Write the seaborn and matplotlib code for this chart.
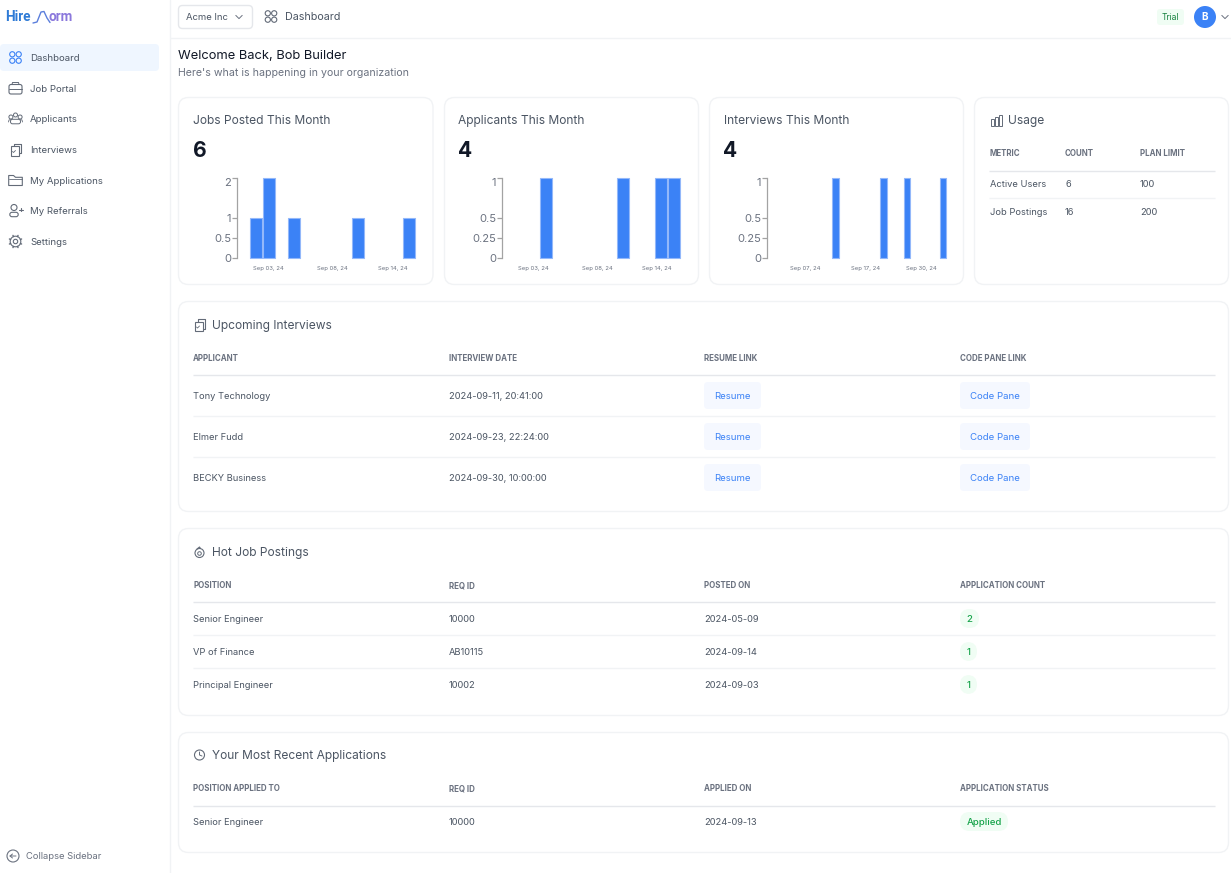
import numpy as np
import matplotlib
matplotlib.use("Agg")
import matplotlib.pyplot as plt
import seaborn as sns
from matplotlib.patches import FancyBboxPatch, Circle, Rectangle, Polygon

# ---------- data ----------
jobs_days = ["Sep 02", "Sep 03", "Sep 04", "Sep 05", "Sep 06", "Sep 07", "Sep 08", "Sep 09", "Sep 10", "Sep 11", "Sep 12", "Sep 13", "Sep 14"]
jobs_counts = [1, 2, 0, 1, 0, 0, 0, 0, 1, 0, 0, 0, 1]
applicant_days = jobs_days
applicant_counts = [0, 0, 1, 0, 0, 0, 0, 0, 1, 0, 0, 1, 1]
interview_days = [f"Sep {d:02d}" for d in range(1, 31)]
interview_counts = [0, 0, 0, 0, 0, 0, 0, 0, 0, 0, 0, 1, 0, 0, 0, 0, 0, 0, 0, 1, 0, 0, 0, 1, 0, 0, 0, 0, 0, 1]
jobs_ticks = [0, 0.5, 1, 2]
jobs_ticklabels = ["0", "0.5", "1", "2"]
unit_ticks = [0, 0.25, 0.5, 1]
unit_ticklabels = ["0", "0.25", "0.5", "1"]
jobs_xlabels = ["Sep 03, 24", "Sep 08, 24", "Sep 14, 24"]
applicant_xlabels = ["Sep 03, 24", "Sep 08, 24", "Sep 14, 24"]
interview_xlabels = ["Sep 07, 24", "Sep 17, 24", "Sep 30, 24"]
nav_items = ["Dashboard", "Job Portal", "Applicants", "Interviews", "My Applications", "My Referrals", "Settings"]
card_titles = ["Jobs Posted This Month", "Applicants This Month", "Interviews This Month"]
card_totals = ["6", "4", "4"]
usage_headers = ["METRIC", "COUNT", "PLAN LIMIT"]
usage_rows = [["Active Users", "6", "100"], ["Job Postings", "16", "200"]]
interview_headers = ["APPLICANT", "INTERVIEW DATE", "RESUME LINK", "CODE PANE LINK"]
interview_rows = [["Tony Technology", "2024-09-11, 20:41:00"], ["Elmer Fudd", "2024-09-23, 22:24:00"], ["BECKY Business", "2024-09-30, 10:00:00"]]
hot_headers = ["POSITION", "REQ ID", "POSTED ON", "APPLICATION COUNT"]
hot_rows = [["Senior Engineer", "10000", "2024-05-09", "2"], ["VP of Finance", "AB10115", "2024-09-14", "1"], ["Principal Engineer", "10002", "2024-09-03", "1"]]
recent_headers = ["POSITION APPLIED TO", "REQ ID", "APPLIED ON", "APPLICATION STATUS"]
recent_rows = [["Senior Engineer", "10000", "2024-09-13", "Applied"]]

# ---------- style ----------
W, H = 1231, 873
sns.set_theme(style="white")
plt.rcParams["font.family"] = ["Inter", "DejaVu Sans"]
BLUE = "#3b82f6"; DARK = "#111827"; TXT = "#4b5563"; MUTED = "#6b7280"; LINE = "#e5e7eb"; SOFT = "#f1f3f5"; ICON = "#636b78"
BODY = 9.3; TITLE = 12.0; HEAD = 7.95

fig = plt.figure(figsize=(W / 100, H / 100), dpi=100, facecolor="white")
bg = fig.add_axes([0, 0, 1, 1])
bg.set_xlim(0, W); bg.set_ylim(H, 0); bg.axis("off")

def T(x, y, s, px=BODY, color=TXT, weight="normal", ha="left", family=None):
    kw = {"family": family} if family else {}
    bg.text(x, y + 0.9, s, fontsize=px * 0.72, color=color, weight=weight, ha=ha, va="center", **kw)

def box(x0, y0, x1, y1, r=8, fc="white", ec=SOFT, lw=1.0):
    bg.add_patch(FancyBboxPatch((x0 + r, y0 + r), x1 - x0 - 2 * r, y1 - y0 - 2 * r,
                                boxstyle=f"round,pad={r},rounding_size={r}", fc=fc, ec=ec, lw=lw))

def hline(x0, x1, y, c=SOFT, lw=1.0):
    bg.plot([x0, x1], [y, y], color=c, lw=lw, solid_capstyle="butt")

def L(xs, ys, c=ICON, lw=0.7):
    bg.plot(xs, ys, color=c, lw=lw, solid_capstyle="round")

def chev(x, y, c=MUTED, s=3.2):
    L([x - s, x, x + s], [y - 1.6, y + 1.6, y - 1.6], c, 0.7)

def ic_grid(x, y, c=ICON):
    for dx in (-3.2, 3.2):
        for dy in (-3.2, 3.2):
            bg.add_patch(Circle((x + dx, y + dy), 2.6, fc="none", ec=c, lw=0.8))

def ic_case(x, y):
    box(x - 6.5, y - 4, x + 6.5, y + 5.5, r=2, fc="none", ec=ICON, lw=0.8)
    L([x - 6.5, x + 6.5], [y, y], ICON, 0.7)
    L([x - 3.5, x - 3, x + 3, x + 3.5], [y - 4, y - 6, y - 6, y - 4], ICON, 0.7)

def ic_people(x, y):
    for dx, dy in ((-4.6, -1.5), (4.6, -1.5), (0, -3.5)):
        bg.add_patch(Circle((x + dx, y + dy), 2, fc="none", ec=ICON, lw=0.7))
    bg.add_patch(FancyBboxPatch((x - 4, y + 1.8), 8, 2.5, boxstyle="round,pad=1,rounding_size=2", fc="none", ec=ICON, lw=0.7))
    L([x - 7, x - 6.5, x - 5], [y + 3.5, y + 1.5, y + 1], ICON, 0.6)
    L([x + 7, x + 6.5, x + 5], [y + 3.5, y + 1.5, y + 1], ICON, 0.6)

def ic_clip(x, y):
    bg.add_patch(Rectangle((x - 5, y - 3.5), 8.5, 9.5, fc="white", ec=ICON, lw=0.8))
    L([x - 1.5, x - 1.5, x + 5.5, x + 5.5, x + 3.5], [y - 3.5, y - 6, y - 6, y + 3.5, y + 3.5], ICON, 0.8)
    L([x - 3, x - 2, x], [y + 2, y + 3, y + 1], ICON, 0.6)

def ic_folder(x, y):
    bg.add_patch(Polygon([(x - 6.8, y - 5), (x - 2, y - 5), (x, y - 3.2), (x + 6.8, y - 3.2), (x + 6.8, y + 5), (x - 6.8, y + 5)],
                         closed=True, fc="none", ec=ICON, lw=0.8, joinstyle="round"))
    L([x - 6.8, x + 6.8], [y - 1.2, y - 1.2], ICON, 0.6)

def ic_user(x, y):
    bg.add_patch(Circle((x - 1.5, y - 3), 3, fc="none", ec=ICON, lw=0.8))
    bg.add_patch(FancyBboxPatch((x - 4.5, y + 3), 6, 2, boxstyle="round,pad=1.2,rounding_size=2.2", fc="none", ec=ICON, lw=0.8))
    L([x + 3.5, x + 7], [y - 1, y - 1], ICON, 0.8); L([x + 5.2, x + 5.2], [y - 2.8, y + 0.8], ICON, 0.8)

def ic_gear(x, y):
    bg.add_patch(Circle((x, y), 2.2, fc="none", ec=ICON, lw=0.8))
    bg.add_patch(Circle((x, y), 5.3, fc="none", ec=ICON, lw=0.8))
    for a in np.radians(np.arange(0, 360, 45) + 22.5):
        L([x + 5.3 * np.cos(a), x + 6.6 * np.cos(a)], [y + 5.3 * np.sin(a), y + 6.6 * np.sin(a)], ICON, 1.0)

def ic_bars(x, y):
    for dx, top in ((-5, -1), (-1, -3), (3, -5.5)):
        bg.add_patch(Rectangle((x + dx, y + top), 3, 5.5 - top, fc="none", ec=ICON, lw=0.7))

def ic_flame(x, y):
    bg.add_patch(Circle((x, y + 1), 4.5, fc="none", ec=ICON, lw=0.8))
    bg.add_patch(Circle((x, y + 1.5), 1.8, fc="none", ec=ICON, lw=0.7))
    L([x - 2.5, x, x + 1], [y - 3, y - 5, y - 3.5], ICON, 0.8)

def ic_clock(x, y):
    bg.add_patch(Circle((x, y), 5, fc="none", ec=ICON, lw=0.8))
    L([x, x, x + 2.5], [y - 3, y, y + 1], ICON, 0.7)

# ---------- sidebar ----------
bg.plot([169.5, 169.5], [0, H], color=SOFT, lw=1)
hline(170, W, 38)
T(5.5, 16.5, "Hire", 13.5, "#2f7bd6", "bold", family=["Roboto", "DejaVu Sans"])
L([33, 37, 41, 44, 47, 50], [23, 22, 12, 11.5, 18, 22.5], "#5b7fdc", 1.0)
T(48.5, 16.5, "orm", 13.5, "#8b78dc", "bold", family=["Roboto", "DejaVu Sans"])
box(0, 44, 159, 71, r=4, fc="#eff6ff", ec="none", lw=0)
nav_y = [57.5, 88.5, 118.5, 149.5, 180.5, 210.5, 241.5]
ic_grid(15.5, 57.5, BLUE)
ic_case(15.5, 88.5); ic_people(15.5, 118.5); ic_clip(15.5, 149.5); ic_folder(15.5, 180.5); ic_user(15.5, 210.5); ic_gear(15.5, 241.5)
for s, y in zip(nav_items, nav_y):
    T(30, y, s, 9.6, TXT)
bg.add_patch(Circle((13, 856), 6, fc="none", ec=MUTED, lw=0.8))
L([16, 10, 12.5], [856, 856, 854], MUTED, 0.7); L([10, 12.5], [856, 858], MUTED, 0.7)
T(26.5, 855.5, "Collapse Sidebar", 9.4, MUTED)

# ---------- top bar ----------
box(178.5, 5.5, 252.5, 28.5, r=4, ec=LINE)
T(186, 16.5, "Acme Inc", 9.5, TXT); chev(239, 17)
ic_grid(271, 16.5); T(285, 16, "Dashboard", 10.7, TXT)
box(1157, 9, 1184, 25, r=3, fc="#f0fdf4", ec="none", lw=0)
T(1170.5, 16.5, "Trial", 8.5, "#15803d", ha="center")
bg.add_patch(Circle((1205, 17), 11, fc=BLUE, ec="none"))
T(1205, 16, "B", 10, "white", "bold", ha="center"); chev(1225, 17)
T(178.5, 55, "Welcome Back, Bob Builder", 12.9, DARK)
T(178.5, 72, "Here's what is happening in your organization", 10.6, MUTED)

# ---------- KPI cards ----------
card_x = [(178.5, 433), (444.5, 698.5), (709.5, 963.5), (974.5, 1228.5)]
for (x0, x1) in card_x:
    box(x0, 97.5, x1, 284.5, r=10)
for tx, title, num in zip([193, 458, 723.5], card_titles, card_totals):
    T(tx, 120, title, TITLE, TXT); T(tx, 150, num, 21, DARK, "bold")

def slots(days):
    # short ranges keep one empty slot before the first day; the month view has none
    return (-1.5, len(days) - 0.5) if len(days) < 20 else (-0.5, len(days) - 0.5)

def chart(left, right, days, counts, width, yticks, ylabels, xpos, xlabels):
    ax = fig.add_axes([left / W, 1 - 257.5 / H, (right - left) / W, 79.5 / H])
    ax.patch.set_alpha(0)
    sns.barplot(x=days, y=counts, color=BLUE, saturation=1, width=width, linewidth=0.8, edgecolor="#93b8fa", ax=ax)
    for p in ax.patches:
        if p.get_height() == 0:
            p.set_visible(False)
        p.set_clip_on(False)
    ax.set_xlim(slots(days))
    ax.set_ylim(0, max(yticks))
    ax.set(xlabel="", ylabel="")
    ax.set_yticks(yticks, ylabels)
    ax.set_xticks(xpos, xlabels)
    ax.tick_params(axis="y", length=3.4, width=0.9, color="#a3a3a3", pad=0.6, labelsize=8, labelcolor=MUTED, left=True)
    ax.tick_params(axis="x", length=0, pad=6.2, labelsize=4.25, labelcolor=MUTED, bottom=False)
    sns.despine(ax=ax, bottom=True)
    ax.spines["left"].set_color("#a3a3a3"); ax.spines["left"].set_linewidth(0.9)
    ax.get_yticklabels()[-1].set_verticalalignment("top")
    return ax

chart(236.7, 415.7, jobs_days, jobs_counts, 0.94, jobs_ticks, jobs_ticklabels, [1, 6, 10.7], jobs_xlabels)
chart(501.7, 680.2, applicant_days, applicant_counts, 0.94, unit_ticks, unit_ticklabels, [1, 6, 10.7], applicant_xlabels)
chart(766.7, 946, interview_days, interview_counts, 1.12, unit_ticks, unit_ticklabels, [6, 16, 25.4], interview_xlabels)

# ---------- usage ----------
ic_bars(996, 120); T(1008, 120, "Usage", TITLE, TXT)
for x, s in zip([989.5, 1065, 1140], usage_headers):
    T(x, 153, s, HEAD, MUTED, "bold")
hline(989, 1215, 170.5, LINE); hline(989, 1215, 197.5)
for y, row in zip([184, 212], usage_rows):
    for x, s in zip([989.5, 1065, 1140], row):
        T(x, y, s)

# ---------- tables ----------
cols = [193, 449, 704, 960]
def section(y0, y1, title, icon, icon_y, title_y, head_y, line_y, headers):
    box(178.5, y0, 1228.5, y1, r=10)
    icon(199.5, icon_y); T(211.5, title_y, title, TITLE, TXT)
    for x, s in zip(cols, headers):
        T(x, head_y, s, HEAD, MUTED, "bold")
    hline(193, 1215, line_y, LINE)

def pill(x0, x1, y, h, fc):
    box(x0, y - h / 2, x1, y + h / 2, r=h / 2, fc=fc, ec="none", lw=0)

section(301.5, 511.5, "Upcoming Interviews", ic_clip, 325, 325, 358, 374.5, interview_headers)
for y in (415.5, 456.5):
    hline(193, 1215, y)
for y, row in zip([395.5, 436.5, 477.5], interview_rows):
    T(cols[0], y, row[0]); T(cols[1], y, row[1])
    box(704, y - 13.5, 761, y + 13.5, r=4, fc="#f5f8ff", ec="none", lw=0)
    box(960, y - 13.5, 1030, y + 13.5, r=4, fc="#f5f8ff", ec="none", lw=0)
    T(732.5, y, "Resume", 9.6, BLUE, ha="center"); T(995, y, "Code Pane", 9.6, BLUE, ha="center")

section(528.5, 715.5, "Hot Job Postings", ic_flame, 552, 552, 585, 601.5, hot_headers)
for y in (634.5, 667.5):
    hline(193, 1215, y)
for y, row in zip([618.5, 651.5, 684.5], hot_rows):
    for x, s in zip(cols[:3], row[:3]):
        T(x, y, s)
    right = 979 if row[3] == "2" else 977
    pill(960, right, y, 19, "#f0fdf4")
    T((960 + right) / 2, y, row[3], 9.6, "#16a34a", "medium", ha="center")

section(732.5, 852.5, "Your Most Recent Applications", ic_clock, 755, 755, 788, 805.5, recent_headers)
for y, row in zip([821.5], recent_rows):
    for x, s in zip(cols[:3], row[:3]):
        T(x, y, s)
    pill(960, 1008, y, 19, "#f0fdf4")
    T(984, y, row[3], 9.6, "#16a34a", "medium", ha="center")

fig.savefig("out.png", dpi=100)
